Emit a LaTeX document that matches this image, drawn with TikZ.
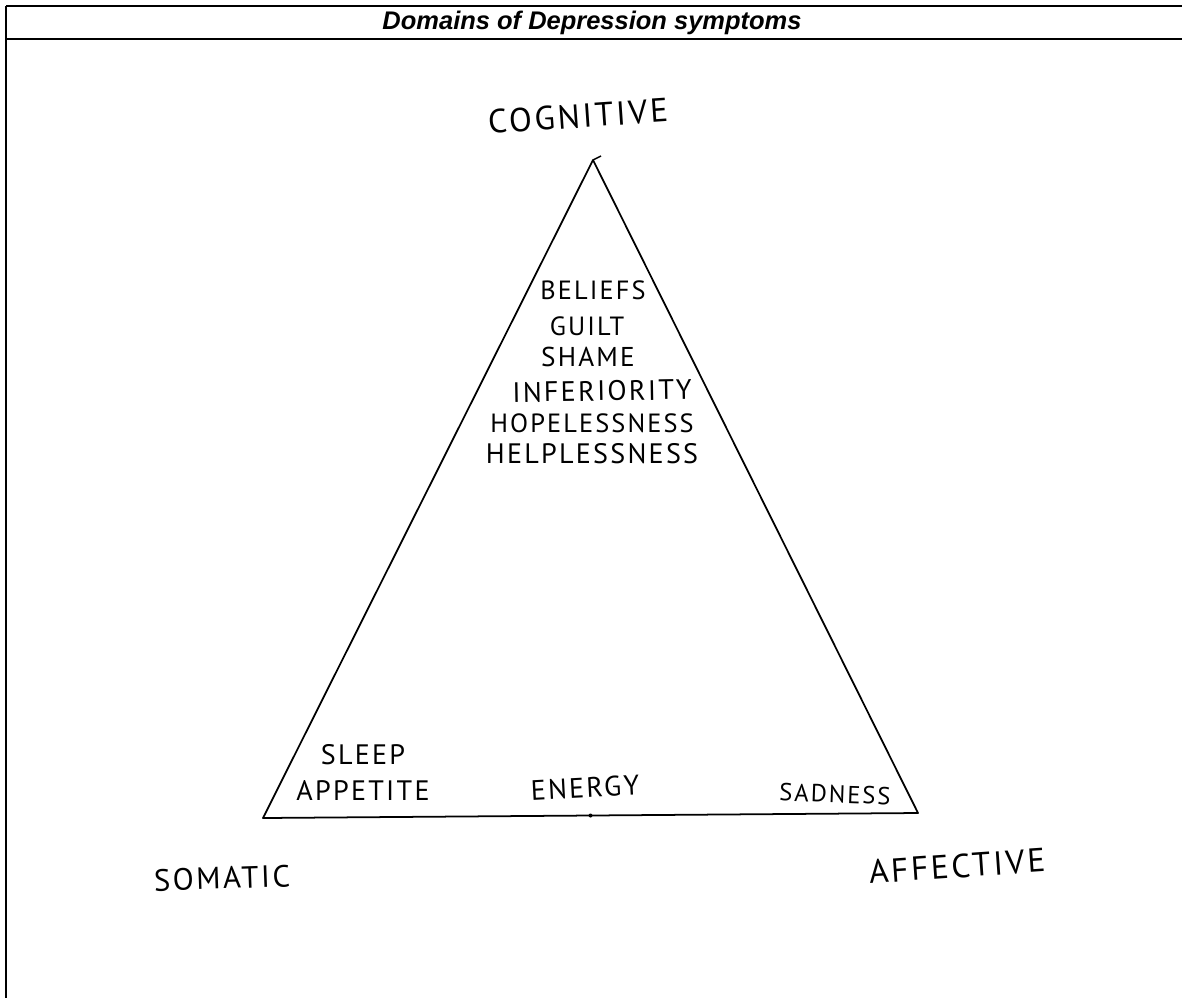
\documentclass[tikz,border=0pt]{standalone}
\usepackage{fontspec}
\setmainfont{Liberation Sans}
\newfontfamily\handfont[LetterSpace=8]{PT Sans}
\usetikzlibrary{calc}
\tikzset{
	hand/.style={font=\handfont\fontsize{16}{16}\selectfont, inner sep=0pt},
	frameline/.style={line width=1.2pt},
}

\begin{document}
\begin{tikzpicture}[x=0.02cm, y=-0.02cm]
			%%%%% START %%%%%
			\useasboundingbox (0, 0) rectangle (1182, 998);
			
			% frame and title
			\draw[frameline] (6, 6) -- (1182, 6);
			\draw[frameline] (6, 39) -- (1182, 39);
			\draw[frameline] (6, 6) -- (6, 998);
			\node[font=\bfseries\itshape\fontsize{14.5}{14.5}\selectfont] (title) at (592, 23) {Domains of Depression symptoms};
			
			% triangle
			\coordinate (top) at (593, 160);
			\coordinate (left) at (263, 818);
			\coordinate (right) at (918, 813);
			\draw[line width=1pt, line join=round] (left) -- (top) -- (right) -- cycle;
			\fill ($(left)!0.5!(right)$) circle (2);
			\draw[line width=0.8pt] (top) -- ++(8, -4);
			
			% corners
			\node[hand, font=\handfont\fontsize{19}{19}\selectfont, rotate=4] (cognitive) at (578, 116) {COGNITIVE};
			\node[hand, font=\handfont\fontsize{17.5}{17.5}\selectfont, rotate=2] (somatic) at (222, 878) {SOMATIC};
			\node[hand, font=\handfont\fontsize{19}{19}\selectfont, rotate=4] (affective) at (957, 866) {AFFECTIVE};
			
			% cognitive symptoms
			\node[hand, font=\handfont\fontsize{15}{15}\selectfont] (beliefs) at (593, 290) {BELIEFS};
			\node[hand, font=\handfont\fontsize{15}{15}\selectfont] (guilt) at (587, 326) {GUILT};
			\node[hand, font=\handfont\fontsize{15.5}{15.5}\selectfont] (shame) at (588, 357) {SHAME};
			\node[hand, rotate=1] (inferiority) at (602, 391) {INFERIORITY};
			\node[hand, font=\handfont\fontsize{15}{15}\selectfont] (hopeless) at (592, 423) {HOPELESSNESS};
			\node[hand] (helpless) at (592, 454) {HELPLESSNESS};
			
			% somatic and affective symptoms
			\node[hand] (sleep) at (363, 755) {SLEEP};
			\node[hand] (appetite) at (363, 790) {APPETITE};
			\node[hand, rotate=3] (energy) at (585, 788) {ENERGY};
			\node[hand, font=\handfont\fontsize{14}{14}\selectfont, rotate=-2] (sadness) at (835, 794) {SADNESS};
			
			%%%%% END %%%%%
\end{tikzpicture}
\end{document}
